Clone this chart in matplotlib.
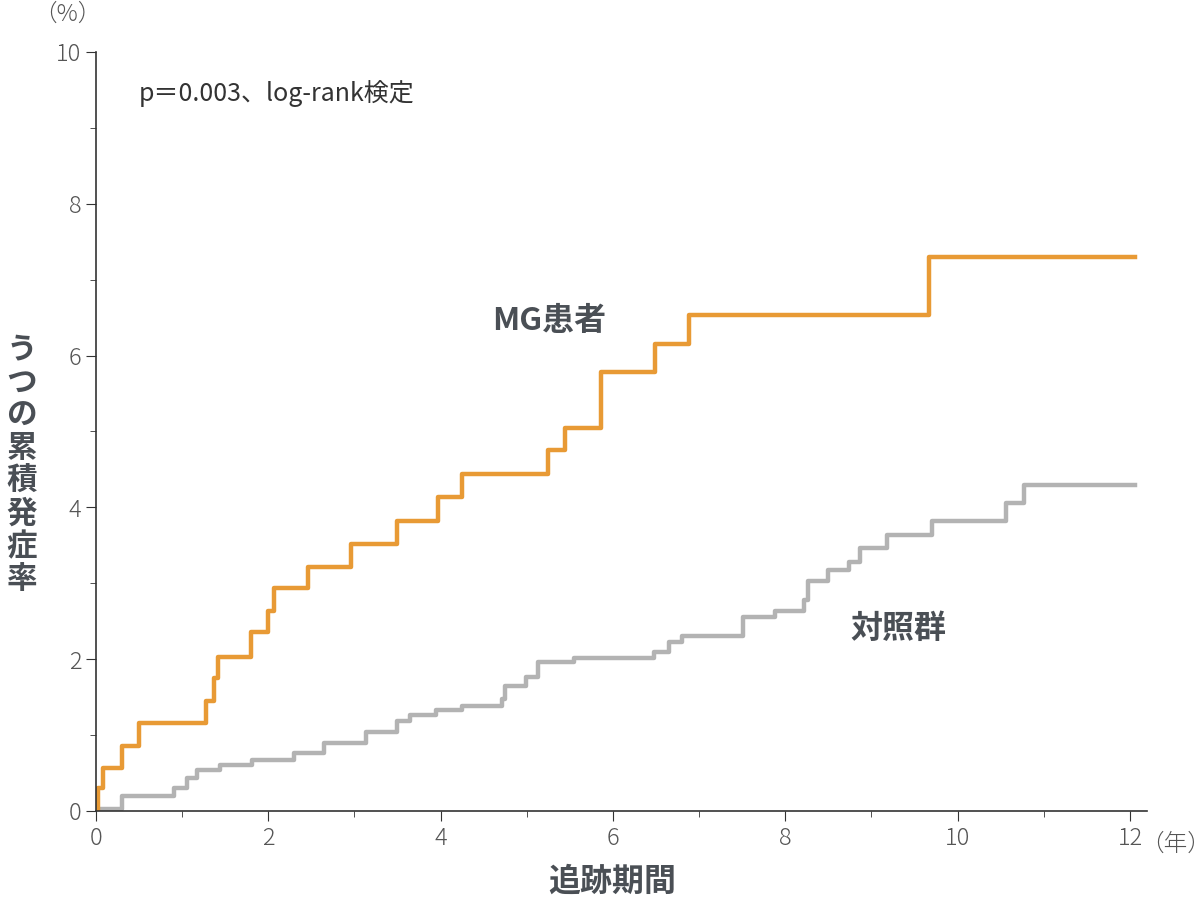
import matplotlib
matplotlib.use("Agg")
import matplotlib.pyplot as plt
from matplotlib.ticker import MultipleLocator

plt.rcParams['font.family'] = ['Noto Sans CJK JP', 'DejaVu Sans']

mg_t = [0, 0.02, 0.08, 0.30, 0.50, 1.28, 1.37, 1.42, 1.80, 2.00, 2.07, 2.46, 2.96, 3.49, 3.97, 4.25,
        5.25, 5.44, 5.86, 6.49, 6.88, 9.67, 12.06]
mg_y = [0, 0.30, 0.57, 0.86, 1.16, 1.45, 1.75, 2.03, 2.36, 2.64, 2.94, 3.22, 3.52, 3.82, 4.14, 4.44,
        4.75, 5.05, 5.78, 6.15, 6.54, 7.30, 7.30]
ct_t = [0, 0.30, 0.90, 1.06, 1.17, 1.44, 1.81, 2.30, 2.65, 3.13, 3.49, 3.64, 3.95, 4.25, 4.71, 4.75,
        4.99, 5.13, 5.55, 6.48, 6.65, 6.80, 7.51, 7.88, 8.22, 8.26, 8.50, 8.74, 8.87, 9.18, 9.70,
        10.56, 10.77, 12.06]
ct_y = [0.02, 0.20, 0.30, 0.44, 0.54, 0.60, 0.67, 0.76, 0.90, 1.04, 1.18, 1.27, 1.33, 1.38, 1.48, 1.65,
        1.77, 1.96, 2.02, 2.10, 2.23, 2.30, 2.55, 2.64, 2.78, 3.03, 3.18, 3.28, 3.47, 3.63, 3.82,
        4.06, 4.29, 4.29]

fig = plt.figure(figsize=(12, 9.02), dpi=100)
ax = fig.add_axes([0.08, 0.1009, 0.876, 0.8415])
ax.step(ct_t, ct_y, where='post', color='#b3b3b3', lw=3.2)
ax.step(mg_t, mg_y, where='post', color='#e89a35', lw=3.2)

ax.set_xlim(0, 12.2)
ax.set_ylim(0, 10)
ax.xaxis.set_major_locator(MultipleLocator(2))
ax.xaxis.set_minor_locator(MultipleLocator(1))
ax.yaxis.set_major_locator(MultipleLocator(2))
ax.yaxis.set_minor_locator(MultipleLocator(1))
for s in ['top', 'right']:
    ax.spines[s].set_visible(False)
for s in ['left', 'bottom']:
    ax.spines[s].set_color('#333333')
    ax.spines[s].set_linewidth(1.2)
ax.tick_params(which='major', length=7, color='#333333', labelsize=17, labelcolor='#555555')
ax.tick_params(which='minor', length=4, color='#333333')
for lab in ax.get_xticklabels() + ax.get_yticklabels():
    lab.set_fontweight('light')

fc = '#4a4f55'
fig.text(0.028, 0.998, '（%）', fontsize=17, color='#555555', ha='left', va='top', fontweight='light')
ax.text(12.12, -0.28, '（年）', fontsize=17, color='#555555', ha='left', va='top', fontweight='light')
fig.text(0.51, 0.005, '追跡期間', fontsize=23, fontweight='bold', color=fc, ha='center', va='bottom')
fig.text(0.018, 0.485, '\n'.join('うつの累積発症率'), fontsize=22, fontweight='bold', color=fc,
         ha='center', va='center', linespacing=1.03)
ax.text(0.5, 9.45, 'p＝0.003、log-rank検定', fontsize=18, color='#333333', va='center')
ax.text(4.6, 6.45, 'MG患者', fontsize=23, fontweight='bold', color=fc, va='center')
ax.text(8.75, 2.4, '対照群', fontsize=23, fontweight='bold', color=fc, va='center')

fig.savefig('out.png', dpi=100, facecolor='white')
